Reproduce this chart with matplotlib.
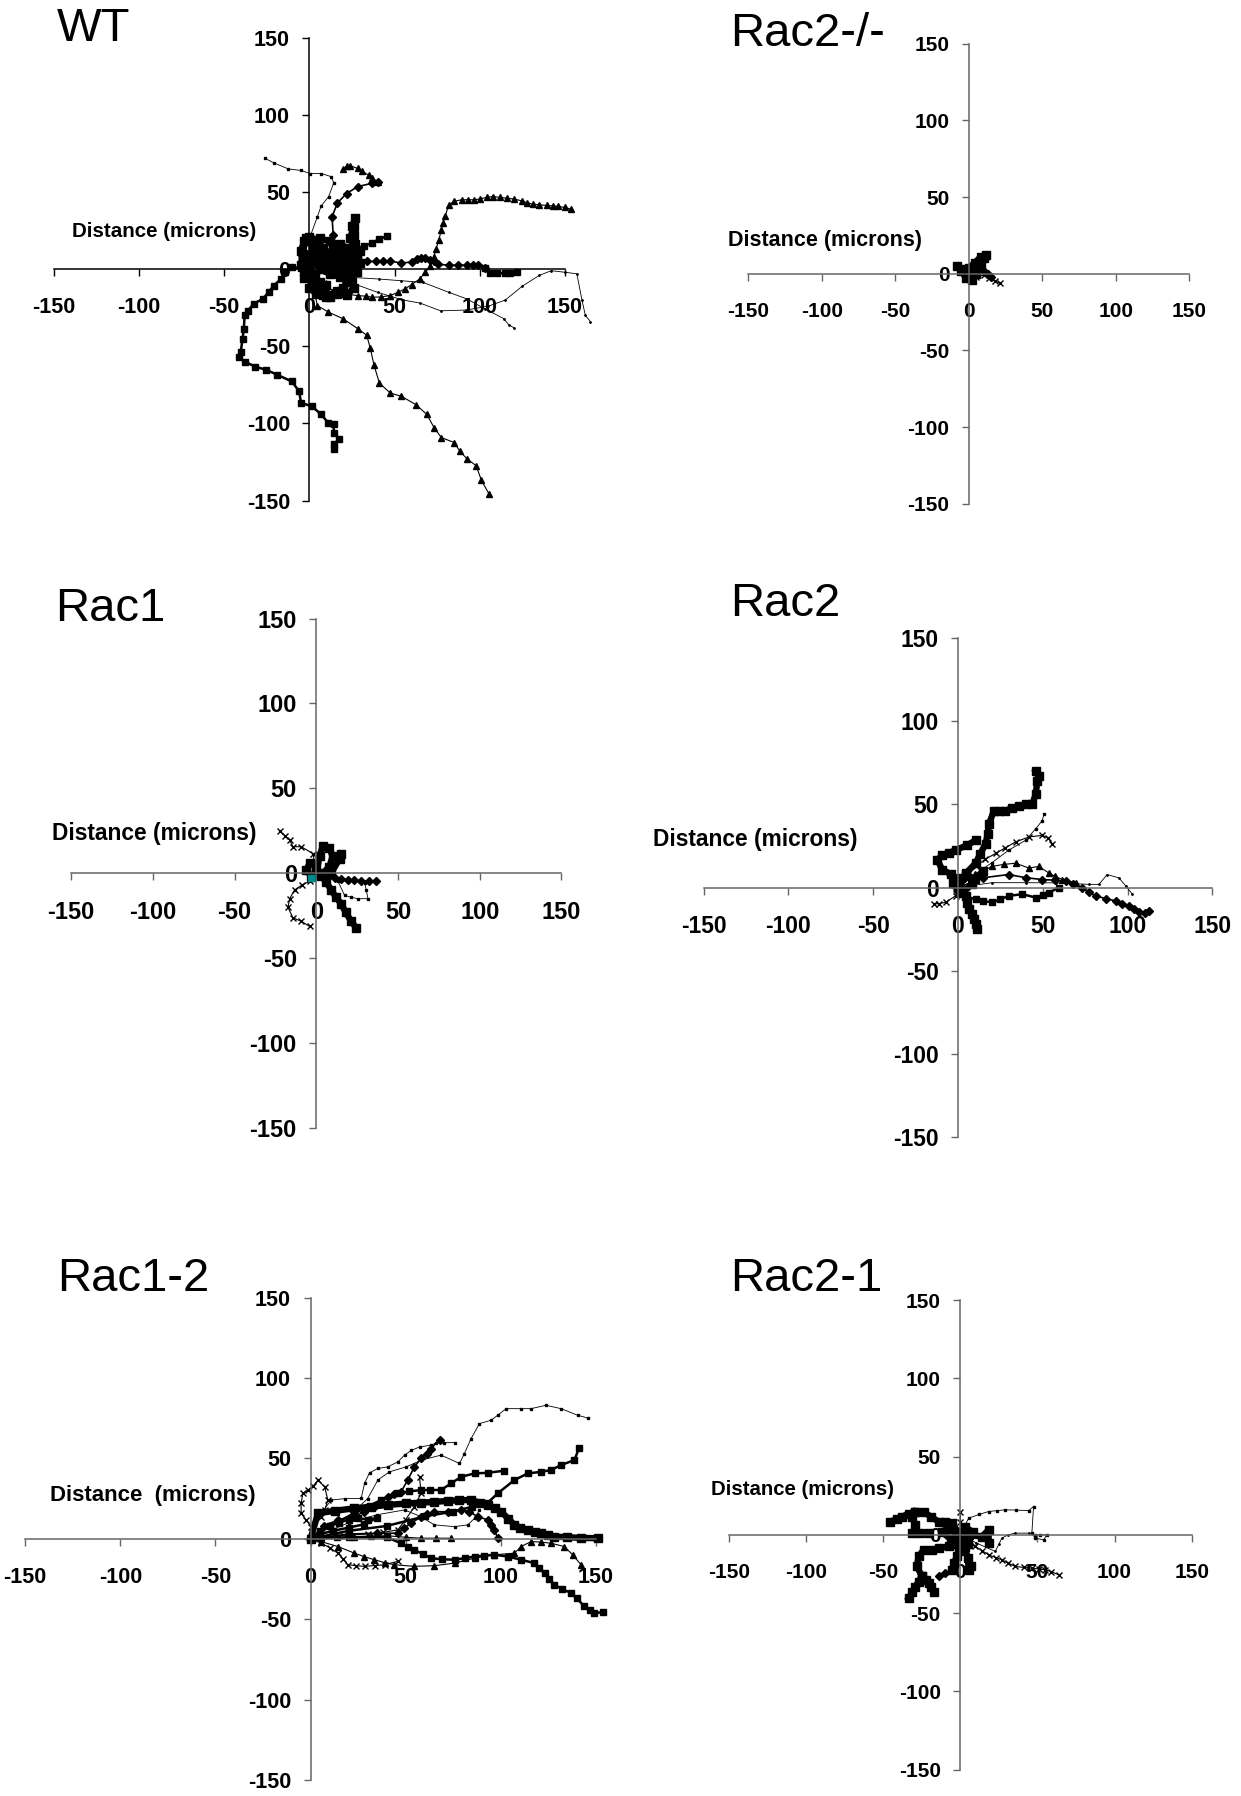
import matplotlib
matplotlib.use('Agg')
import matplotlib.pyplot as plt

plt.rcParams['font.family'] = ['Liberation Sans', 'DejaVu Sans']
plt.rcParams['font.weight'] = 'bold'
plt.rcParams['axes.unicode_minus'] = False

# reference was laid out on a 1083 x 1568 canvas, positions below use that
W, H = 1083.0, 1568.0
TICKS = [-150, -100, -50, 0, 50, 100, 150]

# ---------------- WT tracks (microns) ----------------
wt_dots_nw = [(0, 0), (0, 10), (0.4, 21), (4.7, 34), (6.9, 41), (11.3, 47), (14.3, 56), (12.8, 60),
              (6.9, 62), (0.4, 62), (-4.9, 64), (-12.4, 65), (-21, 69), (-26.3, 72)]
wt_dia_n = [(0, 0), (8, 10), (14, 22), (13.3, 34), (16.5, 43), (21.8, 49), (28.3, 53.5), (36.8, 55.7), (40, 56.7)]
wt_tri_n = [(40, 56.7), (37, 59), (34.7, 61), (31, 63.5), (28.3, 65.3), (24, 67), (21.8, 66.8), (19.7, 64.7)]
wt_core1 = [(0, 0), (-4, 5), (-5, 12), (-3, 18), (0, 21), (4, 19), (8, 14), (12, 10), (16, 12), (20, 9), (24, 12),
            (27, 16), (26, 22), (25, 28), (27, 33), (26, 28), (24, 20), (27, 12), (25, 5), (24, -3), (25, -8)]
wt_core2 = [(0, 0), (3, -4), (5, -9), (6, -14), (8, -17), (12, -18), (16, -16), (20, -12), (22, -8), (18, -5),
            (12, -3), (6, 0), (3, 6), (8, 8), (14, 6), (20, 3), (28, -2)]
wt_core3 = [(0, 0), (-3, -2), (-5, 3), (-4, 8), (2, 10), (8, 9), (15, 7), (22, 6), (28, 8), (30, 12), (26, 14),
            (20, 13), (14, 15)]
wt_core4 = [(0, 0), (2, 15), (6, 20), (12, 18), (18, 16), (22, 14), (28, 10), (30, 4), (26, 0), (20, -2),
            (14, -1), (8, 2), (2, -6), (0, -12), (4, -16), (10, -10)]
wt_core5 = [(0, 0), (-4, 10), (-2, 20), (6, 12), (12, 4), (18, 0), (24, -6), (26, -12), (22, -17), (16, -14),
            (10, -18), (6, -8), (-3, -6)]
wt_sq_ne = [(20, 10), (28, 12.8), (32, 15), (36.8, 17), (41, 19.5), (45.4, 21.4)]
wt_dia_e = [(0, 0), (10, 3), (20, 5), (29, 5), (34, 5), (39, 5), (43, 5), (47.5, 5.3), (54, 3.9), (60, 4.7),
            (63, 6.5), (65.7, 7.5), (68, 7), (71, 6), (73, 5), (75.4, 3.2), (81.8, 2.6), (87, 2.6), (92.5, 2.6),
            (96, 2.6), (98.8, 2.6), (103, 1)]
wt_sq_e = [(103, 1), (106, -2.6), (110, -2.6), (115, -2.6), (118, -2.4), (122, -2)]
wt_tri_ne = [(0, 0), (10, -12), (20, -16), (28.3, -17.1), (33, -17.5), (36.8, -18.2), (42, -18), (47.5, -17.1),
             (52, -15), (56.1, -12.8), (60, -10), (64.7, -6.4), (68, -2), (71, 2.1), (73, 8), (74.3, 12.8),
             (76, 19), (77.5, 25.7), (78.5, 30), (79.7, 34.3), (81.8, 41.8), (85, 44), (89.3, 45), (93, 45),
             (96.8, 45), (100, 45.5), (104, 46.5), (107.5, 47.1), (112, 46.5), (116, 46), (120, 45.5),
             (124.6, 44.3), (128, 43), (131, 42.2), (135, 41.7), (139.6, 41.3), (143, 41), (146, 40.7),
             (150, 40), (153.5, 39)]
wt_thin_e = [(0, 0), (20, -7), (40, -15), (55, -20), (65, -22), (77, -27), (92, -26.5), (105, -24), (115, -20),
             (125, -11), (135, -4), (142, -1), (150, -2), (157, -3), (160, -20), (162, -30), (165, -34)]
wt_thin_se = [(0, 0), (20, -5), (41, -6.4), (54, -7.5), (66.8, -8.6), (81.8, -15), (92.5, -19.3), (103, -25.7),
              (114, -32), (117, -36), (120, -38)]
wt_sq_sw = [(0, 0), (-5, 1), (-10.3, 1.1), (-14.6, -2.1), (-16.7, -6.4), (-21, -10.7), (-24, -15), (-27.4, -19.3),
            (-32.8, -22.5), (-36, -26.8), (-38, -30), (-38.5, -38.5), (-39.2, -45), (-40.3, -53.5),
            (-41.3, -56.7), (-38, -60), (-31.7, -63.2), (-25.3, -65.3), (-18.8, -68.5), (-10.3, -72.8),
            (-6, -79.2), (-4.9, -86.7), (1.5, -88.9), (6.9, -94.2), (11.1, -99.6), (14.3, -100.6),
            (14.3, -106), (17.6, -110), (14.3, -113.5), (14.3, -116.7)]
wt_tri_se = [(0, 0), (2, -10), (4.7, -23.6), (11.1, -27.8), (19.7, -32.1), (28.3, -38.5), (33.6, -42.8),
             (35.8, -51.4), (37.9, -62.1), (41.1, -73.9), (47.5, -80.3), (54, -82.4), (62.5, -87.8),
             (69, -94.2), (73.2, -102.8), (77.5, -109.2), (85, -112.4), (88.2, -117.8), (92.5, -123),
             (97.9, -127.4), (101, -137), (105.4, -145.6)]

# ---------------- Rac2-/- tracks ----------------
r2ko_sq = [(0, 0), (-4, 3), (-8, 5), (-5, 2), (-2, -3), (2, -4), (5, 0), (8, 6), (10, 10), (12, 12), (8, 11),
           (4, 7), (0, 4)]
r2ko_x = [(0, 0), (5, -2), (10, -1), (14, -3), (18, -5), (21, -6)]
r2ko_dia = [(0, 0), (3, 5), (6, 9), (9, 11), (7, 5), (10, 2), (13, 0), (15, -2)]

# ---------------- Rac1 tracks ----------------
r1_x_nw = [(0, 0), (-2, 11.6), (-9.2, 15.7), (-14.3, 15.7), (-16.3, 19.8), (-19, 22), (-22.4, 24.9)]
r1_x_sw = [(0, 0), (-4.1, -4.7), (-9, -7), (-13.3, -9.8), (-16.3, -14.9), (-17.3, -20), (-14.3, -26.1),
           (-9.2, -28.2), (-4.1, -31.2)]
r1_sq_se = [(0, 0), (3.1, -1.6), (6, -5), (9.2, -9.8), (12, -14), (15.3, -18), (18, -23), (21.4, -28.2),
            (24.5, -32.2)]
r1_dia_e = [(0, 0), (5, -1), (11.2, -2.7), (15, -3.5), (19.4, -3.7), (23, -4), (27.6, -4.7), (32, -4.5),
            (36.7, -4.7)]
r1_thin_e = [(0, 0), (13.3, -4.7), (17.3, -12.9), (21, -14), (25.5, -14.9), (31.6, -14.9), (30.6, -9.8),
             (29.6, -5.7)]
r1_sq_ne = [(0, 0), (9.2, 0.4), (14.3, 8.6), (15.3, 11.6)]
r1_core = [(0, 0), (2, 10), (4, 16), (8, 15), (10, 10), (8, 4), (4, 0), (-3, -2), (-6, 2), (-4, 6), (0, 5)]
r1_teal = [(-3, -2.7)]

# ---------------- Rac2 tracks ----------------
r2_sq_n = [(0, 0), (0.6, 2.9), (5, 9), (10.4, 14.7), (13, 20), (16.3, 26.5), (17.5, 32), (18.3, 38.3),
           (21.2, 46.2), (24, 46), (28, 46.2), (32, 48), (35.9, 49.1), (40, 50), (43.8, 50.1), (45.8, 56),
           (46.8, 63.9), (47.5, 67), (45.8, 69.8)]
r2_sq_loop = [(0, 0), (0.6, 4.9), (-4, 8), (-9.2, 10.8), (-12.2, 16.7), (-9.2, 19.6), (-5, 21), (-1.4, 22.6),
              (5.5, 25.5), (10.4, 28.5)]
r2_thin_n = [(0, 0), (10, 8), (20, 15), (30, 22.6), (39.9, 28.5), (45.8, 35.4), (49.7, 40.3), (50.7, 44.2)]
r2_x_ne = [(0, 0), (5, 6), (10.4, 12.8), (16, 17), (22.2, 20.6), (28, 24), (34, 27.5), (41.8, 30.5),
           (49.7, 31.4), (53, 30), (55.6, 26.5)]
r2_tri_e = [(0, 0), (10, 8), (20.2, 12.8), (27, 14), (34, 14.7), (41.8, 11.8), (47.7, 12.8), (53.6, 8.8),
            (57, 7), (61.5, 4.9), (69.4, 2.9)]
r2_dia_se = [(0, 0), (15, 6), (30, 7.9), (40, 6), (49.7, 4.9), (57, 4.5), (63.5, 3.9), (68, 2), (73.3, 0),
             (77, -2.5), (81.1, -4.9), (87, -6.5), (92.9, -7.9), (97, -9.5), (100.8, -10.8), (104, -13),
             (106.7, -14.7), (110, -15), (112.6, -13.8)]
r2_thin_e = [(0, 0), (20, 3), (40, 3), (57.6, 2.9), (67, 2.5), (77.2, 2), (83.1, 2), (88, 7.9), (94.9, 5.9),
             (99, 1), (102.8, -3.9)]
r2_sq_s = [(0, 0), (0.6, -2.9), (5, -5.5), (10.4, -6.9), (15, -8), (20.2, -8.8), (25, -7), (30, -4.9),
           (37.9, -3.9), (45.8, -5.9), (50, -4.5), (53.6, -2.9), (59.5, 0)]
r2_sq_down = [(0, 0), (4.5, -4.9), (5.5, -9), (6.5, -12.8), (8, -16), (9.4, -18.7), (10.5, -22), (11.4, -24.6)]
r2_x_w = [(0, 0), (-1.4, -4.9), (-7.3, -8.8), (-11, -9.5), (-14.1, -9.8)]
r2_core = [(0, 0), (5, 8), (10, 5), (15, 10), (8, 2), (3, -3), (-3, 3), (2, 6)]

# ---------------- Rac1-2 tracks ----------------
r12_dot_top = [(0, 0), (5, 15), (10.9, 24.2), (18, 25), (26.6, 25.2), (28.4, 34.5), (31, 41.1), (35.4, 43.8),
               (40.6, 44.8), (45.9, 47.9), (49.4, 52.1), (53, 55), (57.3, 57.2), (63.4, 58.3), (66, 59.7),
               (70, 59.8), (75.7, 59.9)]
r12_dia_up = [(0, 0), (7, 8), (14.4, 11.8), (23.1, 13.8), (28, 17), (33.6, 20), (37, 23), (40.6, 26.2),
              (44, 28), (47.6, 29.3), (51.1, 36.6), (54.6, 44.8), (58.1, 50), (61, 53), (63.4, 56.2),
              (67.8, 61.8)]
r12_dot_far = [(0, 0), (10, 8), (20, 14), (30, 25), (35.4, 36.6), (41.5, 41.7), (50.3, 44.8), (58.1, 48.9),
               (68.6, 52.1), (78.3, 46.9), (80.9, 53.1), (84.4, 62.4), (88.8, 71.7), (94.9, 73.8),
               (98.4, 76.9), (102.8, 81), (110.7, 81), (115.9, 81), (123.8, 83.1), (131.7, 81),
               (140.4, 76.9), (145.7, 75.2)]
r12_sq_mid = [(0, 0), (10, 8), (23.1, 15.9), (30, 20), (37.1, 24.2), (45.9, 28.3), (52, 29.5), (58.1, 30.4),
              (63, 30.4), (68.6, 30.4), (73.9, 34.5), (79.2, 38.6), (86.2, 40.7), (93.2, 41.1), (101.9, 42.4)]
r12_sq_far = [(0, 0), (20, 5), (40, 8), (60, 14), (75, 17), (85, 20), (93.2, 22.5), (98.4, 28.3),
              (107.2, 36.6), (114.2, 40.7), (121.2, 41.7), (126.4, 42.8), (131.7, 45.9), (138.7, 49),
              (141.3, 56.8)]
r12_bar = [(0, 0), (3.9, 15.9), (13, 17.5), (23.1, 19), (32, 20), (40.6, 21.1), (50, 22), (58.1, 22.5),
           (65, 23), (72.1, 23.6), (78, 24), (84.4, 24.2), (89, 22.5), (93.2, 21.1), (97, 19), (100.2, 16.9),
           (104, 12.5), (107.2, 8.7), (110, 7), (114.2, 5.6), (118, 4.5), (121.2, 3.5), (125, 2.5),
           (128.2, 1.4), (135, 1), (142, 0.6), (151, 0.4)]
r12_dia_loop = [(0, 0), (20, 3), (35, 3.5), (45.9, 3.5), (49, 6.5), (52.9, 9.7), (58.1, 13.8), (61, 15.5),
                (65.1, 16.9), (72.1, 16.9), (79.2, 18), (83.5, 16.9), (87.9, 13.8), (93.2, 11.8), (95, 8.5),
                (96.7, 5.6), (98.4, 0.4)]
r12_dot_dip = [(0, 0), (20, 10), (35, 15), (49.4, 18), (58.1, 13.8), (65.1, 8.7), (75.7, 7.6), (82.7, 8.7),
               (86.2, 12.8), (88.8, 18)]
r12_tri_axis = [(0, 0), (5.6, 0.4), (14, 1), (23.1, 1.4), (32, 1.8), (40.6, 1.9), (50, 1), (58.1, 0.4),
                (66, 0.4), (73.9, 0.4)]
r12_sq_se = [(0, 0), (20, 1), (40, 1), (47.6, -2.7), (51, -5), (54.6, -6.8), (59, -9.5), (63.4, -12),
             (69, -12.7), (75.7, -13), (81, -12), (86.2, -11), (91, -10.5), (96.7, -9.9), (103.7, -11),
             (110.7, -13), (117.7, -15.1), (120, -18), (123, -21.3), (125.5, -25), (128.2, -28.5),
             (132, -31), (136.9, -33.7), (140, -37), (143.9, -42), (147, -44.5), (149.2, -46.1),
             (153.6, -45.7)]
r12_tri_low = [(0, 0), (5.6, -1.7), (14.4, -4.8), (23.1, -8.9), (28, -11), (33.6, -13), (39, -14.8),
               (44.1, -16.1), (54.6, -17.1), (65.1, -16.7), (75.7, -15.1), (86.2, -12), (96.7, -9.9),
               (107.2, -8.9), (110.7, -4.8), (115.9, -1.7), (121, -2), (126.4, -2.7), (133.4, -4.8),
               (137.8, -9.9), (142.2, -16.1)]
r12_x_low = [(0, 0), (5.6, -2.7), (10, -5.5), (14.4, -8.9), (17, -12.5), (19.6, -16.1), (24, -16.7),
             (28.4, -17.1), (34, -16.6), (38.9, -16.1), (45.9, -14)]
r12_x_up = [(0, 0), (0.4, 7.6), (-2.5, 12), (-4.9, 15.9), (-5, 22), (-4, 28.3), (-1.4, 30.4), (1.5, 33),
            (3.9, 36.6), (7.4, 32.4), (9.1, 24.2), (7.5, 18), (5.6, 13.8)]
r12_x_rise = [(0, 0), (15, 2), (30, 3), (38, 4), (45.9, 5.6), (50, 12), (54.6, 20), (58.1, 28.3), (57.3, 38.6)]
r12_core = [(0, 0), (5, 5), (10, 8), (15, 10), (20, 12), (25, 13), (30, 12), (35, 13), (28, 9), (20, 7),
            (12, 5), (5, 3)]

# ---------------- Rac2-1 tracks ----------------
r21_thin_box = [(0, 0), (5.4, 10.6), (12, 13), (18.4, 14.9), (24, 15.5), (29.2, 16), (36, 15.8), (44.3, 15.5),
                (47.5, 18.1), (46.4, 1.1), (48.6, -2.1), (54, -3.2), (56.2, 0), (52, 0), (48.6, 0)]
r21_thin_se = [(0, 0), (10, -5), (22.7, -10.6), (25, -6), (27, -2.1), (31, 0), (35.6, 1.1), (44.3, 1.1)]
r21_x_se = [(0, 0), (1.1, -3.2), (5, -5), (9.7, -7.4), (14, -10), (18.4, -12.8), (23, -14.5), (27, -16),
            (31, -18), (35.6, -20.2), (41, -20.8), (46.4, -21.3), (51, -21.8), (55.1, -22.3), (59, -23.5),
            (63.7, -25.5)]
r21_sq_nw = [(0, 0), (-5.4, 7.4), (-10, 8), (-14, 8.5), (-19, 11.5), (-23.8, 14.9), (-29.2, 14.9),
             (-33, 13.5), (-37.8, 11.7), (-41, 10), (-45.4, 8.5)]
r21_sq_nw2 = [(-29.2, 14.9), (-31.3, 11.7), (-29.2, 6.4)]
r21_sq_w = [(-31.3, 1.1), (-26, 1.1), (-20.5, 1.1)]
r21_sq_sw = [(0, 0), (-4, -4), (-7.6, -7.4), (-14, -8.5), (-18.4, -9.6), (-23.8, -9.6), (-27, -13.8),
             (-28.1, -20.2), (-24.8, -26.6), (-27, -30), (-29.2, -33), (-31, -36.5), (-33.5, -40.4)]
r21_sq_sw2 = [(-24.8, -26.6), (-22.5, -28.8), (-20.5, -30.9), (-19, -33.5), (-17.3, -36.2)]
r21_sq_s = [(0, 0), (1.1, -7.4), (-0.5, -10.5), (-2.2, -13.8), (-4, -18), (-5.4, -22.3)]
r21_sq_s2 = [(0, 0), (3, -8), (5, -15), (5.4, -22.3), (7, -20)]
r21_sq_e = [(0, 0), (5.4, 0), (14, -1.1), (18.4, 3.2), (18.4, -5.3)]
r21_dia = [(-5.4, -22.3), (-9.7, -24.5), (-14, -26.2)]
r21_x_n = [(0, 0), (0, 8), (0, 14.9)]
r21_core = [(0, 0), (-8, 4), (-12, 2), (-6, -3), (3, 5), (8, 2), (5, -6), (-3, -6)]

STYLES = {
    'heavy': dict(lw=4.6, marker='s', ms=5.5),
    'sq': dict(lw=1.8, marker='s', ms=4),
    'tri': dict(lw=0.8, marker='^', ms=5),
    'dia': dict(lw=1.2, marker='D', ms=3.6),
    'x': dict(lw=0.8, marker='x', ms=5, mew=1.0),
    'dot': dict(lw=0.6, marker='s', ms=1.8),
    'thin': dict(lw=0.6, marker='.', ms=2),
}

# name, (x of -150, x of 150, y of 150, y of -150), title pos, label pos, label text, label size,
# tick size, spine colour, tracks
panels = [
    ('WT', (47, 493, 33, 437), (50, 25), (143, 202), 'Distance (microns)', 14.8, 15.5, 'black',
     [(wt_thin_e, 'thin'), (wt_thin_se, 'thin'), (wt_dots_nw, 'dot'), (wt_dia_e, 'dia'), (wt_sq_e, 'sq'),
      (wt_tri_ne, 'tri'), (wt_tri_se, 'tri'), (wt_dia_n, 'dia'), (wt_tri_n, 'tri'), (wt_sq_ne, 'sq'),
      (wt_sq_sw, 'sq'), (wt_core1, 'heavy'), (wt_core2, 'heavy'), (wt_core3, 'heavy'), (wt_core4, 'heavy'),
      (wt_core5, 'heavy')]),
    ('Rac2-/-', (653, 1038, 38, 440), (637, 30), (720, 210), 'Distance (microns)', 15.5, 15, '#666666',
     [(r2ko_x, 'x'), (r2ko_dia, 'dia'), (r2ko_sq, 'heavy')]),
    ('Rac1', (62, 490, 540, 985), (48, 532), (135, 728), 'Distance (microns)', 16.4, 17, '#666666',
     [(r1_thin_e, 'dot'), (r1_x_nw, 'x'), (r1_x_sw, 'x'), (r1_dia_e, 'dia'), (r1_sq_se, 'heavy'),
      (r1_sq_ne, 'heavy'), (r1_core, 'heavy')]),
    ('Rac2', (614, 1058, 557, 993), (637, 527), (659, 733), 'Distance (microns)', 16.4, 16.5, '#666666',
     [(r2_thin_n, 'dot'), (r2_thin_e, 'thin'), (r2_x_ne, 'x'), (r2_tri_e, 'tri'), (r2_dia_se, 'dia'),
      (r2_x_w, 'x'), (r2_sq_s, 'sq'), (r2_sq_n, 'heavy'), (r2_sq_loop, 'heavy'), (r2_sq_down, 'heavy'),
      (r2_core, 'heavy')]),
    ('Rac1-2', (22, 520, 1133, 1554), (50, 1117), (133, 1306), 'Distance  (microns)', 16, 15.5, '#666666',
     [(r12_dot_top, 'dot'), (r12_dot_far, 'dot'), (r12_dot_dip, 'dot'), (r12_sq_far, 'sq'),
      (r12_sq_mid, 'sq'), (r12_dia_up, 'dia'), (r12_dia_loop, 'dia'), (r12_tri_axis, 'tri'),
      (r12_tri_low, 'tri'), (r12_x_low, 'x'), (r12_x_up, 'x'), (r12_x_rise, 'x'), (r12_sq_se, 'sq'),
      (r12_bar, 'heavy'), (r12_core, 'sq')]),
    ('Rac2-1', (636, 1040, 1135, 1545), (637, 1117), (700, 1300), 'Distance (microns)', 14.7, 15, '#666666',
     [(r21_thin_box, 'dot'), (r21_thin_se, 'thin'), (r21_x_se, 'x'), (r21_x_n, 'x'), (r21_dia, 'dia'),
      (r21_sq_nw, 'heavy'), (r21_sq_nw2, 'heavy'), (r21_sq_w, 'heavy'), (r21_sq_sw, 'heavy'),
      (r21_sq_sw2, 'heavy'), (r21_sq_s, 'heavy'), (r21_sq_s2, 'heavy'), (r21_sq_e, 'heavy'),
      (r21_core, 'heavy')]),
]

fig = plt.figure(figsize=(12.41, 17.96), dpi=100)

for name, box, tpos, lpos, label, lsize, tsize, spine, tracks in panels:
    x0, x1, ytop, ybot = box
    ax = fig.add_axes([x0 / W, 1 - ybot / H, (x1 - x0) / W, (ybot - ytop) / H])
    ax.patch.set_alpha(0)
    ax.set_xlim(-150, 150)
    ax.set_ylim(-150, 150)
    ax.spines['top'].set_visible(False)
    ax.spines['right'].set_visible(False)
    ax.spines['left'].set_position(('data', 0))
    ax.spines['bottom'].set_position(('data', 0))
    for s in ['left', 'bottom']:
        ax.spines[s].set_color(spine)
        ax.spines[s].set_linewidth(1.1)
    ax.set_xticks(TICKS)
    ax.set_yticks(TICKS)
    ax.set_xticklabels([str(t) for t in TICKS], fontsize=tsize, fontweight='bold')
    ax.set_yticklabels([str(t) for t in TICKS], fontsize=tsize, fontweight='bold')
    ax.tick_params(axis='x', direction='out', length=5, width=1, color=spine, pad=15)
    ax.tick_params(axis='y', direction='out', length=5, width=1, color=spine, pad=9)

    for pts, st in tracks:
        xs = [p[0] for p in pts]
        ys = [p[1] for p in pts]
        ax.plot(xs, ys, color='black', clip_on=False, **STYLES[st])
    if name == 'Rac1':
        ax.plot([p[0] for p in r1_teal], [p[1] for p in r1_teal], 's', color='#008b8b', ms=4, clip_on=False)

    fig.text(tpos[0] / W, 1 - tpos[1] / H, name, fontsize=34, fontweight='normal', ha='left', va='center')
    fig.text(lpos[0] / W, 1 - lpos[1] / H, label, fontsize=lsize, fontweight='bold', ha='center', va='center')

fig.savefig('out.png', dpi=100, facecolor='white')
